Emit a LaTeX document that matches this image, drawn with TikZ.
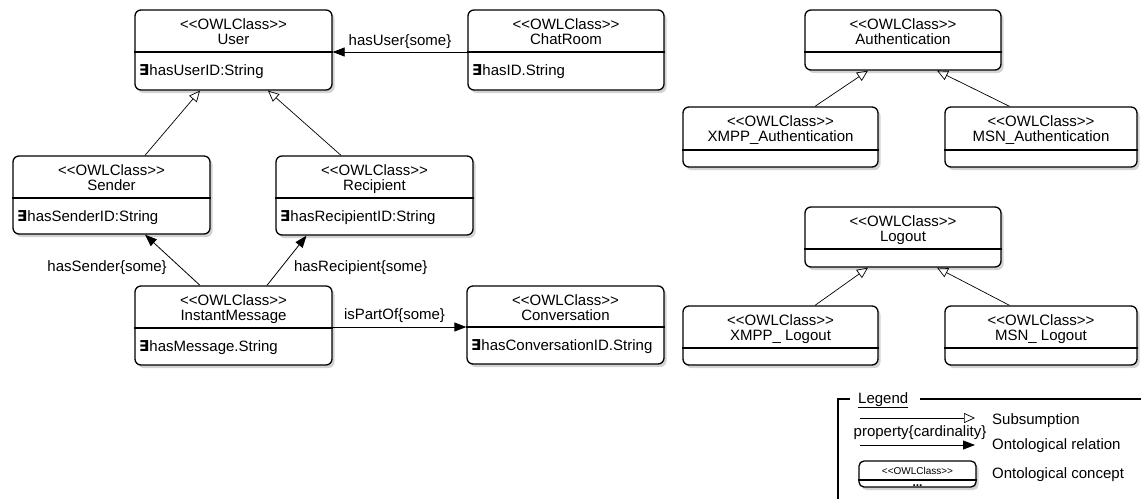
\documentclass[tikz,border=0pt]{standalone}
\usepackage{fontspec}
\setmainfont{Liberation Sans}
\newfontfamily\djv{DejaVu Sans}
\usetikzlibrary{arrows.meta,shadows}
\newcommand\fs{\fontsize{15}{17}\selectfont}
\newcommand\ex{{\djv\bfseries ∃}}
\newcommand\stereo{<\kern0pt<OWLClass>\kern0pt>}
\tikzset{
  owlbox/.style={draw, line width=1.3pt, rounded corners=6pt, fill=white, inner sep=0pt,
    drop shadow={shadow xshift=2.5pt, shadow yshift=-3pt, opacity=0.35}},
  divline/.style={line width=1.1pt},
  txt/.style={font=\fs, inner sep=0pt},
  subarrow/.style={-{Triangle[open,length=11pt,width=10pt]}, line width=0.7pt},
  relarrow/.style={-{Triangle[length=12pt,width=9pt]}, line width=0.8pt},
}
% #1 name, #2 x1, #3 y1, #4 x2, #5 y2, #6 divider y, #7 class, #8 attribute
\newcommand\owl[8]{%
  \node[owlbox, minimum width={(#4-#2)*1pt}, minimum height={(#5-#3)*1pt}] (#1) at ({(#2+#4)/2},{(#3+#5)/2}) {};
  \draw[divline] (#1.west |- 0,#6) -- (#1.east |- 0,#6);
  \node[txt, anchor=base] (#1-st) at ({(#2+#4)/2},{#3+19}) {\stereo};
  \node[txt, anchor=base] (#1-nm) at ({(#2+#4)/2},{#3+34}) {#7};
  \node[txt, anchor=base west] (#1-at) at ({#2+4},{#6+23}) {#8};
}
\begin{document}
\begin{tikzpicture}[x=1pt,y=-1pt]
\useasboundingbox (0,0) rectangle (1141,499);

\owl{User}{135}{10}{332}{90}{52}{User}{\ex hasUserID:String}
\owl{ChatRoom}{468}{10}{664}{90}{52}{ChatRoom}{\ex hasID.String}
\owl{Sender}{13}{156}{210}{234}{198}{Sender}{\ex hasSenderID:String}
\owl{Recipient}{276}{156}{473}{235}{198}{Recipient}{\ex hasRecipientID:String}
\owl{IM}{135}{286}{332}{365}{328}{InstantMessage}{\ex hasMessage.String}
\owl{Conv}{467}{286}{664}{364}{327}{Conversation}{\ex hasConversationID.String}
\owl{Auth}{805}{10}{1001}{70}{52}{Authentication}{}
\owl{XAuth}{683}{107}{878}{167}{150}{XMPP\_Authentication}{}
\owl{MAuth}{945}{107}{1137}{167}{150}{MSN\_Authentication}{}
\owl{Logout}{805}{207}{1001}{267}{249}{Logout}{}
\owl{XLogout}{683}{306}{878}{365}{348}{XMPP\_ Logout}{}
\owl{MLogout}{945}{306}{1137}{365}{348}{MSN\_ Logout}{}

% subsumption
\draw[subarrow] ([xshift=33.5pt]Sender.north) -- ([xshift=-33.5pt]User.south);
\draw[subarrow] ([xshift=-33.5pt]Recipient.north) -- ([xshift=34.5pt]User.south);
\draw[subarrow] ([xshift=34.5pt]XAuth.north) -- ([xshift=-35pt]Auth.south);
\draw[subarrow] ([xshift=-31.5pt]MAuth.north) -- ([xshift=34pt]Auth.south);
\draw[subarrow] ([xshift=34.5pt]XLogout.north) -- ([xshift=-35pt]Logout.south);
\draw[subarrow] ([xshift=-31.5pt]MLogout.north) -- ([xshift=34pt]Logout.south);

% relations
\draw[relarrow] ([yshift=-2pt]ChatRoom.west) -- ([yshift=-2pt]User.east)
  node[txt, midway, anchor=base, yshift=7pt] (lUser) {hasUser\{some\}};
\draw[relarrow] ([xshift=-33.5pt]IM.north) -- ([xshift=33.5pt]Sender.south)
  node[txt, pos=0.27, anchor=base east, xshift=-18pt] (lSender) {hasSender\{some\}};
\draw[relarrow] ([xshift=33.5pt]IM.north) -- ([xshift=-68pt]Recipient.south)
  node[txt, pos=0.27, anchor=base west, xshift=16pt] (lRec) {hasRecipient\{some\}};
\draw[relarrow] ([yshift=-1.5pt]IM.east) -- ([yshift=-1.5pt]IM.east -| Conv.west)
  node[txt, midway, anchor=base, yshift=8pt, xshift=-5pt] (lPart) {isPartOf\{some\}};

% legend
\draw[line width=1.2pt] (850,399) -- (838,399) -- (838,499);
\draw[line width=1.2pt] (920,399) -- (1141,399);
\node[txt, anchor=base west] (legend) at (858,403) {\underline{Legend}};
\draw[subarrow] (860,418) -- (975,418);
\node[txt, anchor=base west] (lsub) at (992,424) {Subsumption};
\node[txt, anchor=base] (lprop) at (920,436) {property\{cardinality\}};
\draw[relarrow] (860,445) -- (975,445);
\node[txt, anchor=base west] (lrel) at (992,449) {Ontological relation};
\node[owlbox, rounded corners=5pt, minimum width=117pt, minimum height=26pt] (mini) at (917.5,474) {};
\draw[divline] (mini.west |- 0,480) -- (mini.east |- 0,480);
\node[inner sep=0pt, font=\fontsize{10}{12}\selectfont, anchor=base] (ministereo) at (917.5,474) {\stereo};
\node[inner sep=0pt, font=\fontsize{12}{12}\selectfont\bfseries, anchor=base] (minidots) at (917.5,486) {...};
\node[txt, anchor=base west] (lcon) at (992,478) {Ontological concept};
\end{tikzpicture}
\end{document}
